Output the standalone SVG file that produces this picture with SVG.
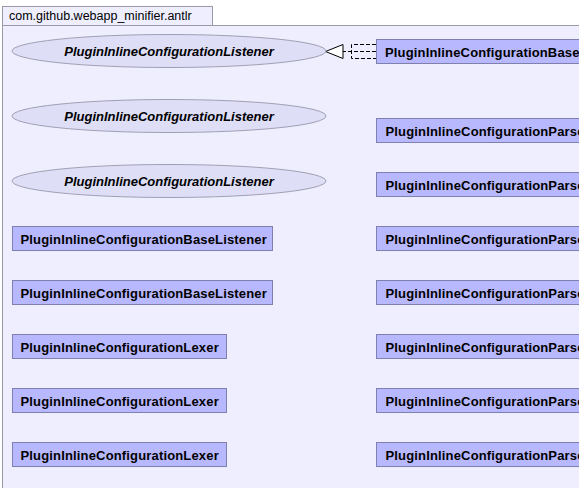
<svg xmlns="http://www.w3.org/2000/svg" width="579" height="488" viewBox="0 0 579 488">
<style>
.pkg{fill:#EEEEFF;stroke:#9A9AA8;stroke-width:1}
.tabtxt{font-family:"Liberation Sans",Arial,sans-serif;font-size:12.5px;fill:#000}
.iface{fill:#DEDEF7;stroke:#A0A0B4;stroke-width:1}
.itxt{font-family:"Liberation Sans",Arial,sans-serif;font-size:13px;font-weight:bold;font-style:italic;text-anchor:middle;fill:#000}
.cls{fill:#B8B8FF;stroke:#7F7FB0;stroke-width:1}
.ctxt{font-family:"Liberation Sans",Arial,sans-serif;font-size:13px;font-weight:bold;letter-spacing:0.16px;fill:#000}
.dash{fill:none;stroke:#000;stroke-width:1;stroke-dasharray:4,2}
</style>
<rect width="579" height="488" fill="#FFFFFF"/>
<g id="package">
<rect class="pkg" x="2.5" y="6.5" width="210" height="19"/>
<rect class="pkg" x="2.5" y="25.5" width="600" height="480"/>
<text class="tabtxt" x="9" y="20">com.github.webapp_minifier.antlr</text>
</g>
<g id="connectors">
<path class="dash" d="M376,44.5 H351.5 V58.5 H376"/>
<path class="dash" d="M376,51.5 H343"/>
<polygon points="325.5,51.5 343,44.5 343,58.5" fill="#FFFFFF" stroke="#000" stroke-width="1"/>
</g>
<g id="listener1">
<ellipse class="iface" cx="169" cy="51" rx="157" ry="16.5"/>
<text class="itxt" x="169" y="55.5">PluginInlineConfigurationListener</text>
</g>
<g id="listener2">
<ellipse class="iface" cx="169" cy="116" rx="157" ry="16.5"/>
<text class="itxt" x="169" y="120.5">PluginInlineConfigurationListener</text>
</g>
<g id="listener3">
<ellipse class="iface" cx="169" cy="181" rx="157" ry="16.5"/>
<text class="itxt" x="169" y="185.5">PluginInlineConfigurationListener</text>
</g>
<g id="base">
<rect class="cls" x="376.5" y="39.5" width="260" height="24"/>
<text class="ctxt" x="385" y="57">PluginInlineConfigurationBase</text>
</g>
<g id="parser1">
<rect class="cls" x="376.5" y="118.5" width="260" height="24"/>
<text class="ctxt" x="385.5" y="136">PluginInlineConfigurationParse</text>
</g>
<g id="parser2">
<rect class="cls" x="376.5" y="172.5" width="260" height="24"/>
<text class="ctxt" x="385.5" y="190">PluginInlineConfigurationParse</text>
</g>
<g id="parser3">
<rect class="cls" x="376.5" y="226.5" width="260" height="24"/>
<text class="ctxt" x="385.5" y="244">PluginInlineConfigurationParse</text>
</g>
<g id="parser4">
<rect class="cls" x="376.5" y="280.5" width="260" height="24"/>
<text class="ctxt" x="385.5" y="298">PluginInlineConfigurationParse</text>
</g>
<g id="parser5">
<rect class="cls" x="376.5" y="334.5" width="260" height="24"/>
<text class="ctxt" x="385.5" y="352">PluginInlineConfigurationParse</text>
</g>
<g id="parser6">
<rect class="cls" x="376.5" y="388.5" width="260" height="24"/>
<text class="ctxt" x="385.5" y="406">PluginInlineConfigurationParse</text>
</g>
<g id="parser7">
<rect class="cls" x="376.5" y="442.5" width="260" height="24"/>
<text class="ctxt" x="385.5" y="460">PluginInlineConfigurationParse</text>
</g>
<g id="baselistener1">
<rect class="cls" x="12.5" y="226.5" width="260" height="24"/>
<text class="ctxt" x="20.5" y="244">PluginInlineConfigurationBaseListener</text>
</g>
<g id="baselistener2">
<rect class="cls" x="12.5" y="280.5" width="260" height="24"/>
<text class="ctxt" x="20.5" y="298">PluginInlineConfigurationBaseListener</text>
</g>
<g id="lexer1">
<rect class="cls" x="12.5" y="334.5" width="214" height="24"/>
<text class="ctxt" x="20.5" y="352">PluginInlineConfigurationLexer</text>
</g>
<g id="lexer2">
<rect class="cls" x="12.5" y="388.5" width="214" height="24"/>
<text class="ctxt" x="20.5" y="406">PluginInlineConfigurationLexer</text>
</g>
<g id="lexer3">
<rect class="cls" x="12.5" y="442.5" width="214" height="24"/>
<text class="ctxt" x="20.5" y="460">PluginInlineConfigurationLexer</text>
</g>
</svg>
